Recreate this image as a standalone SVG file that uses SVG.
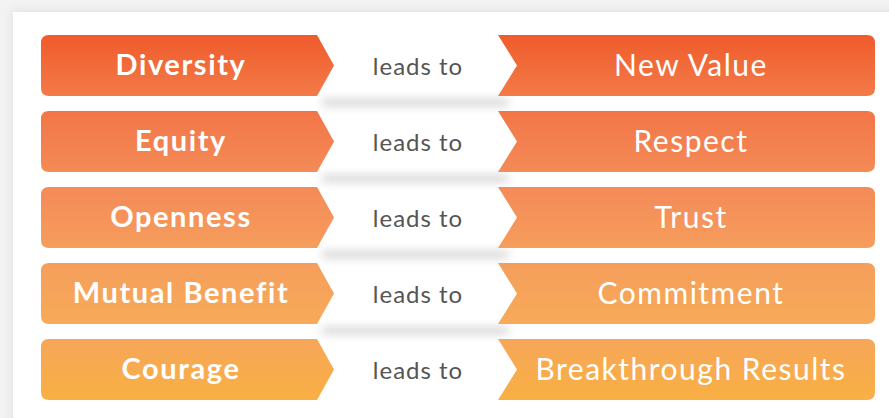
<svg xmlns="http://www.w3.org/2000/svg" width="889" height="418" viewBox="0 0 889 418">
<defs>
  <linearGradient id="g1" x1="0" y1="0" x2="0" y2="1"><stop offset="0" stop-color="#f05b2c"/><stop offset="1" stop-color="#f37a48"/></linearGradient>
  <linearGradient id="g2" x1="0" y1="0" x2="0" y2="1"><stop offset="0" stop-color="#f27548"/><stop offset="1" stop-color="#f48b56"/></linearGradient>
  <linearGradient id="g3" x1="0" y1="0" x2="0" y2="1"><stop offset="0" stop-color="#f48a58"/><stop offset="1" stop-color="#f69d5c"/></linearGradient>
  <linearGradient id="g4" x1="0" y1="0" x2="0" y2="1"><stop offset="0" stop-color="#f59e5c"/><stop offset="1" stop-color="#f7aa58"/></linearGradient>
  <linearGradient id="g5" x1="0" y1="0" x2="0" y2="1"><stop offset="0" stop-color="#f6a659"/><stop offset="1" stop-color="#f9b043"/></linearGradient>
  <filter id="blur" x="-20%" y="-200%" width="140%" height="500%"><feGaussianBlur stdDeviation="5 3.5"/></filter>
  <filter id="cardsh" x="-10%" y="-10%" width="120%" height="120%"><feGaussianBlur stdDeviation="4"/></filter>
</defs>
<style>
  .lt{font-family:Lato,"Open Sans",sans-serif;font-weight:700;font-size:29px;letter-spacing:1.6px;fill:#ffffff;text-anchor:middle}
  .mid{font-family:Lato,"Open Sans",sans-serif;font-weight:400;font-size:24px;letter-spacing:1px;fill:#555555;text-anchor:middle}
  .rt{font-family:Lato,"Open Sans",sans-serif;font-weight:400;font-size:30px;letter-spacing:1.5px;fill:#ffffff;text-anchor:middle}
  .sh{fill:#e3e3e3;filter:url(#blur)}
</style>
<rect x="0" y="0" width="889" height="418" fill="#f3f3f3"/>
<rect x="11" y="10" width="900" height="430" fill="#e2e2e2" filter="url(#cardsh)"/>
<rect x="13" y="12" width="890" height="420" fill="#ffffff"/>

<g id="row1">
  <rect class="sh" x="322" y="97" width="186" height="11"/>
  <path d="M49 35 H317 L334 65.5 L317 96 H49 Q41 96 41 88 V43 Q41 35 49 35 Z" fill="url(#g1)"/>
  <path d="M498 35 H867 Q875 35 875 43 V88 Q875 96 867 96 H498 L517 65.5 Z" fill="url(#g1)"/>
  <text class="lt" x="181" y="75">Diversity</text>
  <text class="mid" x="418" y="75">leads to</text>
  <text class="rt" x="691" y="76">New Value</text>
</g>
<g id="row2">
  <rect class="sh" x="322" y="173" width="186" height="11"/>
  <path d="M49 111 H317 L334 141.5 L317 172 H49 Q41 172 41 164 V119 Q41 111 49 111 Z" fill="url(#g2)"/>
  <path d="M498 111 H867 Q875 111 875 119 V164 Q875 172 867 172 H498 L517 141.5 Z" fill="url(#g2)"/>
  <text class="lt" x="181" y="151">Equity</text>
  <text class="mid" x="418" y="151">leads to</text>
  <text class="rt" x="691" y="152">Respect</text>
</g>
<g id="row3">
  <rect class="sh" x="322" y="249" width="186" height="11"/>
  <path d="M49 187 H317 L334 217.5 L317 248 H49 Q41 248 41 240 V195 Q41 187 49 187 Z" fill="url(#g3)"/>
  <path d="M498 187 H867 Q875 187 875 195 V240 Q875 248 867 248 H498 L517 217.5 Z" fill="url(#g3)"/>
  <text class="lt" x="181" y="227">Openness</text>
  <text class="mid" x="418" y="227">leads to</text>
  <text class="rt" x="691" y="228">Trust</text>
</g>
<g id="row4">
  <rect class="sh" x="322" y="325" width="186" height="11"/>
  <path d="M49 263 H317 L334 293.5 L317 324 H49 Q41 324 41 316 V271 Q41 263 49 263 Z" fill="url(#g4)"/>
  <path d="M498 263 H867 Q875 263 875 271 V316 Q875 324 867 324 H498 L517 293.5 Z" fill="url(#g4)"/>
  <text class="lt" x="181" y="303">Mutual Benefit</text>
  <text class="mid" x="418" y="303">leads to</text>
  <text class="rt" x="691" y="304">Commitment</text>
</g>
<g id="row5">
  <path d="M49 339 H317 L334 369.5 L317 400 H49 Q41 400 41 392 V347 Q41 339 49 339 Z" fill="url(#g5)"/>
  <path d="M498 339 H867 Q875 339 875 347 V392 Q875 400 867 400 H498 L517 369.5 Z" fill="url(#g5)"/>
  <text class="lt" x="181" y="379">Courage</text>
  <text class="mid" x="418" y="379">leads to</text>
  <text class="rt" x="691" y="380">Breakthrough Results</text>
</g>
<g id="connectors"></g>
</svg>
